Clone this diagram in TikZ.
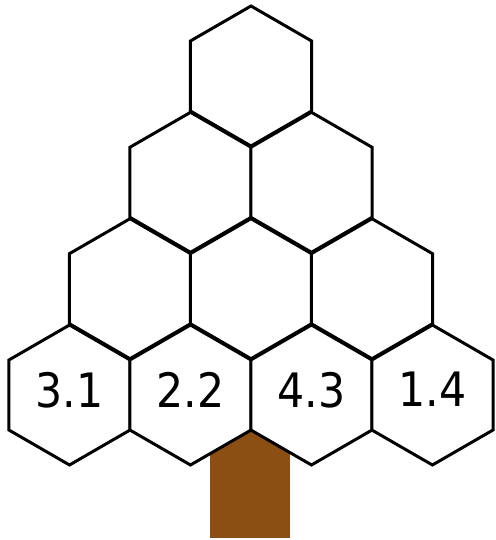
\documentclass[tikz,border=0pt]{standalone}
\usepackage{fontspec}
\setmainfont{DejaVu Sans Condensed}
\usetikzlibrary{shapes.geometric,positioning}
\definecolor{trunkbrown}{RGB}{139,78,19}
\tikzset{
  hexcell/.style={draw, regular polygon, regular polygon sides=6, shape border rotate=30,
    minimum size=2.8cm, inner sep=0pt, fill=white, line width=1.7pt, text depth=0.22cm,
    font=\fontsize{27}{32}\selectfont},
}
\begin{document}
\begin{tikzpicture}[x=0.02cm, y=-0.02cm, node distance=2.42cm]
  \useasboundingbox (0,0) rectangle (496,540);
  \node (trunk) [fill=trunkbrown, minimum width=1.6cm, minimum height=2.76cm, inner sep=0pt] at (250,469) {};

  \node (r1c1) [hexcell] at (251,76) {};

  \node (r2c1) [hexcell] at (190.5,182.3) {};
  \node (r2c2) [hexcell, right of=r2c1] {};

  \node (r3c1) [hexcell] at (130,288.7) {};
  \node (r3c2) [hexcell, right of=r3c1] {};
  \node (r3c3) [hexcell, right of=r3c2] {};

  \node (r4c1) [hexcell] at (69.5,395) {3.1};
  \node (r4c2) [hexcell, right of=r4c1] {2.2};
  \node (r4c3) [hexcell, right of=r4c2] {4.3};
  \node (r4c4) [hexcell, right of=r4c3] {1.4};
\end{tikzpicture}
\end{document}
